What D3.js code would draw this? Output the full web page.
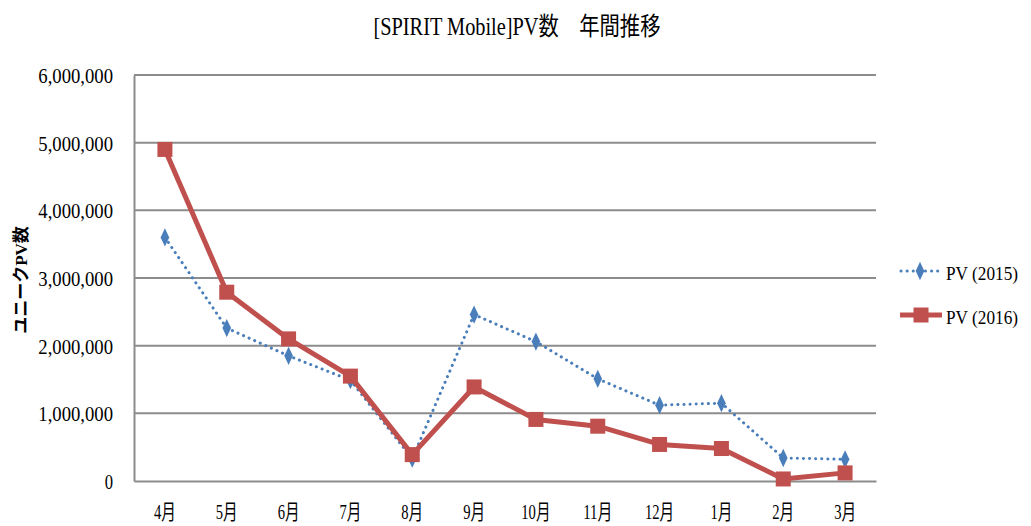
<!DOCTYPE html>
<html>
<head>
<meta charset="utf-8">
<script src="https://cdn.jsdelivr.net/npm/d3@7"></script>
<style>
  body { margin: 0; background: #fff; }
  text { font-family: "Liberation Serif", "Noto Sans CJK JP", serif; fill: #000; }
</style>
</head>
<body>
<svg id="chart" width="1031" height="526"></svg>
<script>
// chart data
var months = ['4月', '5月', '6月', '7月', '8月', '9月', '10月', '11月', '12月', '1月', '2月', '3月'];
var pv2015 = [3600000, 2260000, 1850000, 1490000, 330000, 2460000, 2060000, 1510000, 1120000, 1150000, 340000, 320000];
var pv2016 = [4900000, 2790000, 2100000, 1550000, 390000, 1390000, 910000, 810000, 540000, 480000, 30000, 120000];
var yTicks = [0, 1000000, 2000000, 3000000, 4000000, 5000000, 6000000];
var seriesNames = ['PV (2015)', 'PV (2016)'];

var svg = d3.select('#chart');
var plot = { left: 134, right: 876, top: 75, bottom: 481 };

// squeeze text to half-width cells, like the narrow Mincho font of the original
function squeeze(sel, unit) {
  sel.each(function() {
    var t = d3.select(this).text();
    var n = 0;
    for (var i = 0; i < t.length; i++) n += t.charCodeAt(i) > 255 ? 2 : 1;
    d3.select(this).attr('textLength', n * unit).attr('lengthAdjust', 'spacingAndGlyphs');
  });
}

var x = d3.scaleBand().domain(months).range([plot.left, plot.right]);
var y = d3.scaleLinear().domain([0, 6000000]).range([plot.bottom, plot.top]);
var cx = function(d, i) { return x(months[i]) + x.bandwidth() / 2; };

// gridlines
svg.append('g').selectAll('line')
  .data(yTicks.slice(1))
  .enter().append('line')
  .attr('x1', plot.left).attr('x2', plot.right)
  .attr('y1', function(d) { return y(d); }).attr('y2', function(d) { return y(d); })
  .attr('stroke', '#8c8c8c').attr('stroke-width', 2);

// y axis
var yAxis = svg.append('g')
  .attr('transform', 'translate(' + plot.left + ',0)')
  .call(d3.axisLeft(y).tickValues(yTicks).tickSize(0).tickPadding(21)
    .tickFormat(d3.format(',')));
yAxis.select('.domain').attr('stroke', '#8c8c8c').attr('stroke-width', 2);
yAxis.selectAll('.tick text').style('font-size', '21px').attr('dy', '0.35em').call(squeeze, 8.3);

// x axis
var xAxis = svg.append('g')
  .attr('transform', 'translate(0,' + plot.bottom + ')')
  .call(d3.axisBottom(x).tickSize(0));
xAxis.select('.domain').attr('stroke', '#8c8c8c').attr('stroke-width', 2);
xAxis.selectAll('.tick text').attr('y', 31).attr('dy', '0.35em')
  .style('font-size', '21px').call(squeeze, 7.3);

// series lines
var line = d3.line().x(cx).y(function(d) { return y(d); });

svg.append('path').datum(pv2015)
  .attr('d', line)
  .attr('fill', 'none').attr('stroke', '#4a7ebb')
  .attr('stroke-width', 3).attr('stroke-linecap', 'round')
  .attr('stroke-dasharray', '0.1 6');

svg.append('g').selectAll('path')
  .data(pv2015)
  .enter().append('path')
  .attr('d', d3.symbol(d3.symbolDiamond, 80))
  .attr('transform', function(d, i) { return 'translate(' + cx(d, i) + ',' + y(d) + ') scale(0.9,1.1)'; })
  .attr('fill', '#4a7ebb');

svg.append('path').datum(pv2016)
  .attr('d', line)
  .attr('fill', 'none').attr('stroke', '#c0504d')
  .attr('stroke-width', 5).attr('stroke-linejoin', 'round');

svg.append('g').selectAll('rect')
  .data(pv2016)
  .enter().append('rect')
  .attr('x', function(d, i) { return cx(d, i) - 7.5; })
  .attr('y', function(d) { return y(d) - 7.5; })
  .attr('width', 15).attr('height', 15)
  .attr('fill', '#c0504d');

// title
svg.append('text')
  .attr('x', 517).attr('y', 35)
  .attr('text-anchor', 'middle')
  .style('font-size', '25px')
  .text('[SPIRIT Mobile]PV数　年間推移')
  .call(squeeze, 9.9);

// y axis title
svg.append('text')
  .attr('transform', 'translate(27,280) rotate(-90)')
  .attr('text-anchor', 'middle')
  .style('font-size', '17px').style('font-weight', 'bold')
  .text('ユニークPV数');

// legend
var legend = svg.append('g').attr('transform', 'translate(900,0)');
legend.append('line')
  .attr('x1', 1).attr('x2', 40).attr('y1', 271).attr('y2', 271)
  .attr('stroke', '#4a7ebb').attr('stroke-width', 3)
  .attr('stroke-linecap', 'round').attr('stroke-dasharray', '0.1 6');
legend.append('path')
  .attr('d', d3.symbol(d3.symbolDiamond, 80))
  .attr('transform', 'translate(20,271) scale(0.9,1.1)')
  .attr('fill', '#4a7ebb');
legend.append('line')
  .attr('x1', 0).attr('x2', 42).attr('y1', 315).attr('y2', 315)
  .attr('stroke', '#c0504d').attr('stroke-width', 5);
legend.append('rect')
  .attr('x', 13.5).attr('y', 307.5).attr('width', 15).attr('height', 15)
  .attr('fill', '#c0504d');
legend.selectAll('text.leg')
  .data(seriesNames)
  .enter().append('text')
  .attr('class', 'leg')
  .attr('x', 46)
  .attr('y', function(d, i) { return 273 + i * 44; })
  .attr('dy', '0.35em')
  .style('font-size', '19px')
  .text(function(d) { return d; })
  .call(squeeze, 8);
</script>
</body>
</html>
